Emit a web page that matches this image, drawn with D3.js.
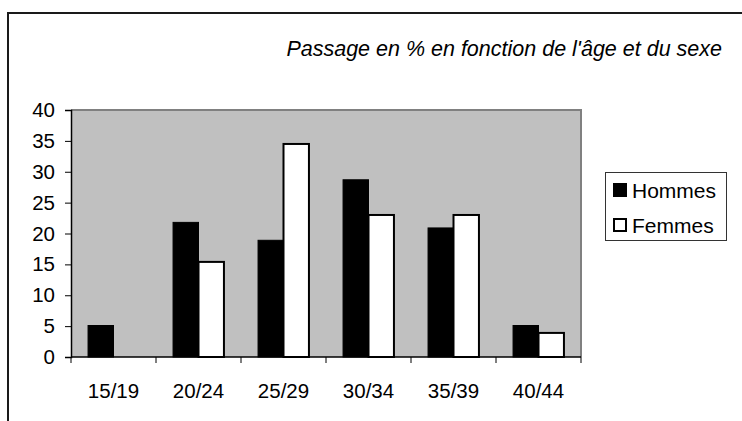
<!DOCTYPE html>
<html>
<head>
<meta charset="utf-8">
<script src="https://cdn.jsdelivr.net/npm/d3@7"></script>
<style>
  html, body { margin: 0; padding: 0; background: #fff; }
  svg { display: block; font-family: "Liberation Sans", Arial, sans-serif; }
</style>
</head>
<body>
<svg id="chart" width="742" height="421"></svg>
<script>
// Share (%) by age group and sex
const categories = ["15/19", "20/24", "25/29", "30/34", "35/39", "40/44"];
const hommes = [5.1, 21.8, 18.9, 28.7, 20.9, 5.1];
const femmes = [null, 15.4, 34.5, 23.0, 23.0, 3.9];
const seriesNames = ["Hommes", "Femmes"];
const yTicks = [0, 5, 10, 15, 20, 25, 30, 35, 40];
const titleText = "Passage en % en fonction de l'âge et du sexe";

const svg = d3.select("#chart");

// outer chart frame
svg.append("path")
  .attr("d", "M8,421 V13 H742")
  .attr("fill", "none")
  .attr("stroke", "#1a1a1a")
  .attr("stroke-width", 2);

const plot = { left: 71, top: 110, right: 581, bottom: 357 };

const x0 = d3.scaleBand()
  .domain(categories)
  .range([plot.left, plot.right])
  .padding(0);

const x1 = d3.scaleBand()
  .domain(seriesNames)
  .range([0, x0.bandwidth()])
  .paddingInner(0)
  .paddingOuter(0.67);

const y = d3.scaleLinear()
  .domain([0, 40])
  .range([plot.bottom, plot.top]);

// plot area
svg.append("rect")
  .attr("x", plot.left)
  .attr("y", plot.top)
  .attr("width", plot.right - plot.left)
  .attr("height", plot.bottom - plot.top)
  .attr("fill", "#c0c0c0");

svg.append("path")
  .attr("d", `M${plot.left},${plot.top} H${plot.right} V${plot.bottom}`)
  .attr("fill", "none")
  .attr("stroke", "#808080")
  .attr("stroke-width", 2);

// bars
const rows = categories.map((c, i) => ({ cat: c, Hommes: hommes[i], Femmes: femmes[i] }));

const groups = svg.append("g").selectAll("g")
  .data(rows)
  .join("g")
  .attr("transform", d => `translate(${x0(d.cat)},0)`);

groups.selectAll("rect")
  .data(d => seriesNames.map(s => ({ s, v: d[s] })).filter(e => e.v != null))
  .join("rect")
  .attr("x", d => x1(d.s))
  .attr("y", d => y(d.v))
  .attr("width", x1.bandwidth())
  .attr("height", d => y(0) - y(d.v))
  .attr("fill", d => d.s === "Hommes" ? "#000" : "#fff")
  .attr("stroke", "#000")
  .attr("stroke-width", d => d.s === "Hommes" ? 1 : 2);

// y axis
const yAxis = d3.axisLeft(y)
  .tickValues(yTicks)
  .tickSize(6)
  .tickPadding(10)
  .tickFormat(d3.format("d"));

const gy = svg.append("g")
  .attr("transform", `translate(${plot.left},0)`)
  .call(yAxis);
gy.select(".domain").attr("stroke", "#000").attr("stroke-width", 1.5);
gy.selectAll(".tick line").attr("stroke", "#000");
gy.selectAll(".tick text")
  .attr("font-size", 20.5)
  .attr("font-family", "Liberation Sans, Arial, sans-serif")
  .attr("fill", "#000");

// x axis: ticks at category boundaries, labels centred in each band
const gx = svg.append("g")
  .attr("transform", `translate(0,${plot.bottom})`);

gx.append("line")
  .attr("x1", plot.left).attr("x2", plot.right)
  .attr("stroke", "#000").attr("stroke-width", 1.5);

const boundaries = categories.map(c => x0(c)).concat([x0.range()[1]]);
gx.selectAll("line.tk")
  .data(boundaries)
  .join("line")
  .attr("class", "tk")
  .attr("x1", d => d).attr("x2", d => d)
  .attr("y1", 0).attr("y2", 6)
  .attr("stroke", "#000");

gx.selectAll("text")
  .data(categories)
  .join("text")
  .attr("x", d => x0(d) + x0.bandwidth() / 2)
  .attr("y", 41)
  .attr("text-anchor", "middle")
  .attr("font-size", 20.5)
  .attr("fill", "#000")
  .text(d => d);

// title
svg.append("text")
  .attr("x", 722)
  .attr("y", 56)
  .attr("text-anchor", "end")
  .attr("font-size", 21.5)
  .attr("font-style", "italic")
  .attr("fill", "#000")
  .text(titleText);

// legend
const legend = svg.append("g");
legend.append("rect")
  .attr("x", 605.5).attr("y", 172.5)
  .attr("width", 121).attr("height", 68)
  .attr("fill", "#fff")
  .attr("stroke", "#333")
  .attr("stroke-width", 1);

const legendRows = legend.selectAll("g.item")
  .data(seriesNames)
  .join("g")
  .attr("class", "item")
  .attr("transform", (d, i) => `translate(613,${183 + i * 35})`);

legendRows.append("rect")
  .attr("x", d => d === "Femmes" ? 1 : 0)
  .attr("y", d => d === "Femmes" ? 1 : 0)
  .attr("width", d => d === "Femmes" ? 12 : 14)
  .attr("height", d => d === "Femmes" ? 12 : 14)
  .attr("fill", d => d === "Hommes" ? "#000" : "#fff")
  .attr("stroke", "#000")
  .attr("stroke-width", d => d === "Hommes" ? 0 : 2);

legendRows.append("text")
  .attr("x", 19)
  .attr("y", 15)
  .attr("font-size", 21)
  .attr("fill", "#000")
  .text(d => d);
</script>
</body>
</html>
